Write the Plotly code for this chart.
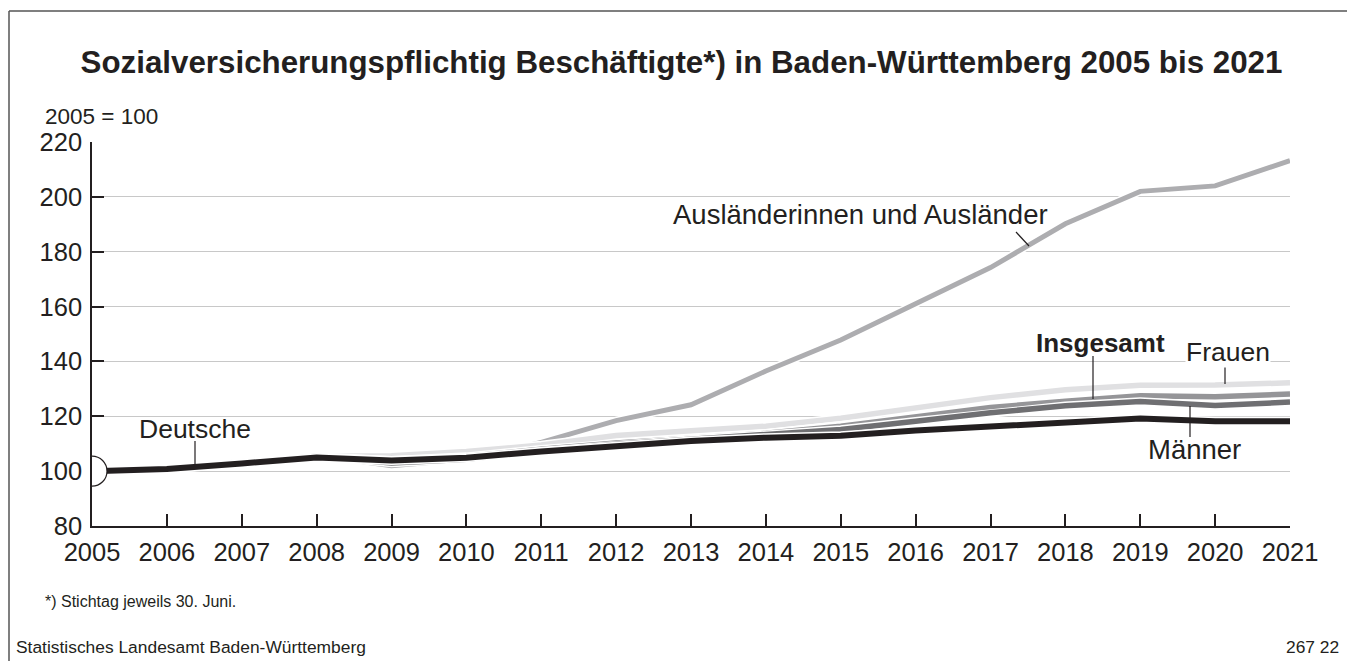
import plotly.graph_objects as go

# ---------------- data ----------------
years = list(range(2005, 2022))
auslaender = [100, 101, 103.5, 105.8, 102, 104.3, 110.5, 118.4, 124.2, 136.5, 147.8, 160.8, 174.2, 190.2, 202, 204, 213.2]
frauen = [100, 101.1, 103.1, 105.3, 105.6, 107.2, 109.5, 113, 114.7, 116.4, 119.3, 123, 126.8, 129.7, 131.3, 131.4, 132.2]
insgesamt = [100, 100.9, 103, 105.3, 104, 105.3, 108, 110.3, 112, 113.8, 116.4, 119.7, 123.2, 125.5, 127.5, 127.1, 128.1]
maenner = [100, 100.7, 103, 105.4, 103, 104.3, 107.3, 109.8, 111.6, 113.3, 115.2, 118.2, 121.3, 123.8, 125.4, 123.9, 125.2]
deutsche = [100, 100.8, 102.8, 105, 103.9, 104.9, 107.2, 109.2, 111, 112.2, 112.9, 114.8, 116.2, 118, 119.2, 118.2, 118.2]
y_ticks = [80, 100, 120, 140, 160, 180, 200, 220]

series = [
    ("Ausländerinnen und Ausländer", auslaender, "#adadb0", 5),
    ("Frauen", frauen, "#e0e0e2", 5.5),
    ("Insgesamt", insgesamt, "#959598", 5.5),
    ("Männer", maenner, "#6f6f72", 5.5),
    ("Deutsche", deutsche, "#231f20", 6),
]

# ---------------- layout geometry (pixels of the reference) ----------------
OFF = 8                      # page body margin of the html page
W, H = 1355 - OFF, 661 - OFF
L, R, T, B = 92, 1290, 142, 526   # plot area in reference pixels
TXT = "#231f20"
FONT = "Liberation Sans, Arial, Helvetica, sans-serif"


def px(x):
    return (x - L) / (R - L)


def py(y):
    return (B - y) / (B - T)


fig = go.Figure()
for name, vals, col, w in series:
    fig.add_trace(go.Scatter(x=years, y=vals, mode="lines", showlegend=False,
                             line=dict(color="white", width=w + 3), hoverinfo="skip"))
    fig.add_trace(go.Scatter(x=years, y=vals, mode="lines", name=name, showlegend=False,
                             line=dict(color=col, width=w)))

shapes = []
# frame
for x0, y0, x1, y1 in [(9, 11, 1352, 11), (9, 11, 9, 661), (1352, 11, 1352, 661)]:
    shapes.append(dict(type="line", xref="paper", yref="paper", x0=px(x0), y0=py(y0),
                       x1=px(x1), y1=py(y1), line=dict(color="#555555", width=1.5), layer="above"))
# semicircle at index base
shapes.append(dict(type="circle", xref="x", yref="y", xsizemode="pixel", ysizemode="pixel",
                   xanchor=years[0], yanchor=100, x0=-15, x1=15, y0=-15, y1=15,
                   fillcolor="white", line=dict(color=TXT, width=1.2), layer="above"))
# leader lines
for x0, y0, x1, y1 in [(195, 441, 195, 465), (1016, 232, 1029, 246), (1093, 356, 1093, 399),
                       (1225, 366, 1225, 384), (1190, 406, 1190, 437)]:
    shapes.append(dict(type="line", xref="paper", yref="paper", x0=px(x0), y0=py(y0),
                       x1=px(x1), y1=py(y1), line=dict(color=TXT, width=1.2), layer="above"))

annotations = []


def ann(text, x, y, size, xanchor="center", bold=False, bg=None):
    d = dict(text=f"<b>{text}</b>" if bold else text, xref="paper", yref="paper",
             x=px(x), y=py(y), xanchor=xanchor, yanchor="middle", showarrow=False,
             font=dict(family=FONT, size=size, color=TXT))
    if bg:
        d["bgcolor"] = bg
        d["borderpad"] = 0
    annotations.append(d)


ann("2005 = 100", 43, 116, 22.5, xanchor="left")
ann("Deutsche", 195, 429, 26.5)
ann("Ausländerinnen und Ausländer", 860, 214, 27.5)
ann("Insgesamt", 1100, 343, 26, bold=True)
ann("Frauen", 1228, 352, 26.5, bg="white")
ann("Männer", 1194, 449, 27.5)
ann("*) Stichtag jeweils 30. Juni.", 43, 601, 16, xanchor="left")
ann("Statistisches Landesamt Baden-Württemberg", 14, 647, 17.4, xanchor="left")
ann("267 22", 1341, 647, 17.4, xanchor="right")

fig.update_layout(
    width=W, height=H,
    margin=dict(l=L - OFF, r=W - (R - OFF), t=T - OFF, b=H - (B - OFF), pad=0),
    paper_bgcolor="white", plot_bgcolor="white",
    title=dict(text="<b>Sozialversicherungspflichtig Beschäftigte*) in Baden-Württemberg 2005 bis 2021</b>",
               x=(681.5 - OFF) / W, xanchor="center", xref="container",
               y=1 - (62 - OFF) / H, yanchor="middle", yref="container",
               font=dict(family=FONT, size=31.3, color=TXT)),
    xaxis=dict(range=[years[0], years[-1]], tickmode="array", tickvals=years,
               ticktext=[str(y) for y in years], ticks="inside", ticklen=12, tickwidth=1.5,
               tickcolor=TXT, showline=True, linecolor=TXT, linewidth=1.5, showgrid=False,
               zeroline=False, tickfont=dict(family=FONT, size=25.5, color=TXT), ticklabelstandoff=3),
    yaxis=dict(range=[80, 220], tickmode="array", tickvals=y_ticks, ticks="inside", ticklen=12,
               tickwidth=1.5, tickcolor=TXT, showline=True, linecolor=TXT, linewidth=1.5,
               showgrid=True, gridcolor="#c8c8c8", gridwidth=1.3, zeroline=False,
               tickfont=dict(family=FONT, size=25.5, color=TXT), ticklabelstandoff=3),
    shapes=shapes, annotations=annotations,
)

fig.write_html("out.html")
